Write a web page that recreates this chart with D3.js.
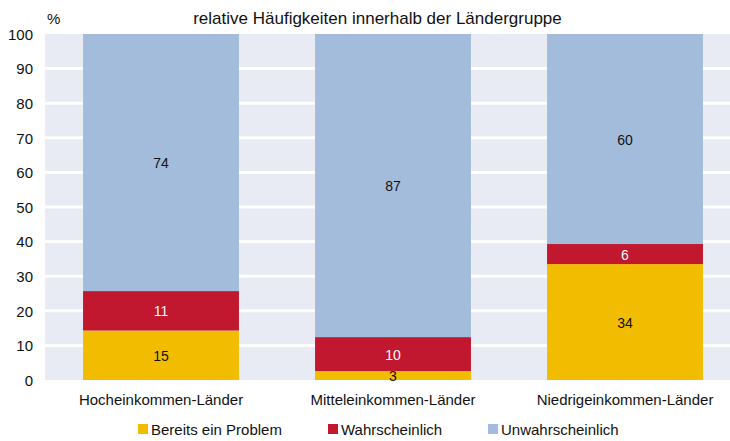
<!DOCTYPE html>
<html><head><meta charset="utf-8">
<script src="https://cdn.jsdelivr.net/npm/d3@7"></script>
<style>body{margin:0;background:#fff}svg{display:block}text{font-family:"Liberation Sans",Arial,sans-serif}</style>
</head><body><svg id="c" width="730" height="441"></svg>
<script>
const categories = ["Hocheinkommen-Länder", "Mitteleinkommen-Länder", "Niedrigeinkommen-Länder"];
const seriesNames = ["Bereits ein Problem", "Wahrscheinlich", "Unwahrscheinlich"];
const bereits = [14.3, 2.6, 33.5];
const wahrsch = [11.4, 9.8, 5.8];
const unwahr = [74.3, 87.6, 60.7];
const bereitsLabels = ["15", "3", "34"];
const wahrschLabels = ["11", "10", "6"];
const unwahrLabels = ["74", "87", "60"];
const yTicks = [0, 10, 20, 30, 40, 50, 60, 70, 80, 90, 100];
const colors = ["#F2BC00", "#C1172F", "#A3BCDB"];
const labelColors = ["#111", "#fff", "#111"];

const svg = d3.select("#c");
const x = d3.scaleBand().domain(categories).range([45, 741]).paddingInner(0.328).paddingOuter(0.164);
const y = d3.scaleLinear().domain([0, 100]).range([380, 34]);

svg.append("rect").attr("x", 45).attr("y", y(100)).attr("width", 730 - 45).attr("height", y(0) - y(100)).attr("fill", "#E8EBF4");
svg.selectAll("line.grid").data(yTicks.slice(1, -1)).join("line").attr("class", "grid")
  .attr("x1", 45).attr("x2", 730).attr("y1", d => y(d)).attr("y2", d => y(d))
  .attr("stroke", "#fff").attr("stroke-width", 3);

const rows = categories.map((c, i) => ({cat: c, s0: bereits[i], s1: wahrsch[i], s2: unwahr[i]}));
const stack = d3.stack().keys(["s0", "s1", "s2"])(rows);
const labelArrs = [bereitsLabels, wahrschLabels, unwahrLabels];

stack.forEach((layer, k) => {
  const g = svg.append("g");
  g.selectAll("rect").data(layer).join("rect")
    .attr("x", d => x(d.data.cat)).attr("width", x.bandwidth())
    .attr("y", d => y(d[1])).attr("height", d => y(d[0]) - y(d[1]))
    .attr("fill", colors[k]);
  g.selectAll("text").data(layer).join("text")
    .attr("x", d => x(d.data.cat) + x.bandwidth() / 2)
    .attr("y", d => (y(d[0]) + y(d[1])) / 2 + 5.5)
    .attr("text-anchor", "middle").attr("font-size", 14).attr("fill", labelColors[k])
    .text((d, i) => labelArrs[k][i]);
});

const yAxis = d3.axisLeft(y).tickValues(yTicks).tickSize(0).tickPadding(0);
const ya = svg.append("g").attr("transform", "translate(33,0)").call(yAxis);
ya.select(".domain").remove();
ya.selectAll("text").attr("font-size", 15).attr("fill", "#111").attr("font-family", '"Liberation Sans",Arial,sans-serif').attr("dy", "0.35em");

const xAxis = d3.axisBottom(x).tickSize(0).tickPadding(0);
const xa = svg.append("g").attr("transform", "translate(0,394)").call(xAxis);
xa.select(".domain").remove();
xa.selectAll("text").attr("font-size", 15).attr("fill", "#111").attr("font-family", '"Liberation Sans",Arial,sans-serif').attr("dy", "0.71em");

svg.append("text").attr("x", 47).attr("y", 24).attr("font-size", 15).attr("fill", "#111").text("%");
svg.append("text").attr("x", 377.5).attr("y", 24).attr("text-anchor", "middle").attr("font-size", 17).attr("fill", "#111").text("relative Häufigkeiten innerhalb der Ländergruppe");

const legX = [138, 328, 488];
const lg = svg.selectAll("g.leg").data(seriesNames).join("g").attr("class", "leg")
  .attr("transform", (d, i) => `translate(${legX[i]},424)`);
lg.append("rect").attr("width", 10).attr("height", 10).attr("fill", (d, i) => colors[i]);
lg.append("text").attr("x", 13).attr("y", 11).attr("font-size", 15).attr("fill", "#111").text(d => d);
</script></body></html>
